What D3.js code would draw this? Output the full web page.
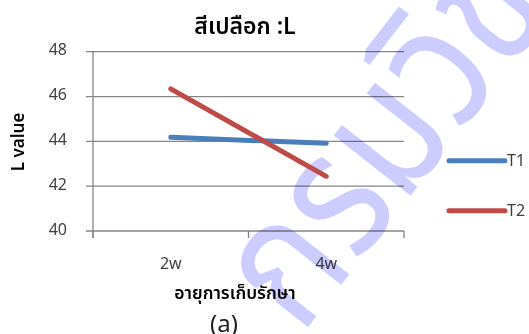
<!DOCTYPE html>
<html>
<head>
<meta charset="utf-8">
<script src="https://cdn.jsdelivr.net/npm/d3@7"></script>
<style>
  html, body { margin: 0; padding: 0; background: #fff; }
  svg { display: block; }
  text { font-family: "Noto Sans Thai", "Leelawadee UI", "Noto Sans", "DejaVu Sans", sans-serif; }
</style>
</head>
<body>
<div class="chart"></div>
<script>
// ---- data ----
var categories = ["2w", "4w"];
var seriesNames = ["T1", "T2"];
var t1Values = [44.18, 43.91];
var t2Values = [46.34, 42.44];
var yTicks = [40, 42, 44, 46, 48];
var seriesColors = ["#4a7ebb", "#be4b48"];

var svgWidth = 529, svgHeight = 334;

var svg = d3.select(".chart")
    .append("svg")
    .attr("width", svgWidth)
    .attr("height", svgHeight);

// scales
var plot = { left: 93, right: 404, top: 51.7, bottom: 231 };

var xScale = d3.scaleBand()
    .domain(categories)
    .range([plot.left, plot.right]);

var yScale = d3.scaleLinear()
    .domain([40, 48])
    .range([plot.bottom, plot.top]);

// gridlines (with the small left tick)
svg.append("g")
    .selectAll("line")
    .data(yTicks)
    .enter()
    .append("line")
    .attr("x1", plot.left - 7)
    .attr("x2", plot.right)
    .attr("y1", d => yScale(d))
    .attr("y2", d => yScale(d))
    .attr("stroke", "#868686")
    .attr("stroke-width", 1.3);

// y axis line
svg.append("line")
    .attr("x1", plot.left).attr("x2", plot.left)
    .attr("y1", plot.top).attr("y2", plot.bottom + 7)
    .attr("stroke", "#868686")
    .attr("stroke-width", 1.3);

// x axis tick marks at band edges
var xEdges = categories.map(c => xScale(c)).concat([plot.right]);
svg.append("g")
    .selectAll("line")
    .data(xEdges)
    .enter()
    .append("line")
    .attr("x1", d => d).attr("x2", d => d)
    .attr("y1", plot.bottom).attr("y2", plot.bottom + 7)
    .attr("stroke", "#868686")
    .attr("stroke-width", 1.3);

// y tick labels
svg.append("g")
    .selectAll("text")
    .data(yTicks)
    .enter()
    .append("text")
    .attr("x", 67)
    .attr("y", d => yScale(d) - 2)
    .attr("dy", "0.35em")
    .attr("text-anchor", "end")
    .attr("font-size", 16)
    .attr("fill", "#404040")
    .text(d => d);

// x tick labels
svg.append("g")
    .selectAll("text")
    .data(categories)
    .enter()
    .append("text")
    .attr("x", d => xScale(d) + xScale.bandwidth() / 2)
    .attr("y", 269)
    .attr("text-anchor", "middle")
    .attr("font-size", 16)
    .attr("fill", "#404040")
    .text(d => d);

// legend
var legend = svg.append("g")
    .selectAll("g")
    .data(seriesNames)
    .enter()
    .append("g")
    .attr("transform", (d, i) => `translate(449, ${160.7 + i * 50})`);

legend.append("line")
    .attr("x1", 0).attr("x2", 56)
    .attr("stroke", (d, i) => seriesColors[i])
    .attr("stroke-width", 5)
    .attr("stroke-linecap", "round");

legend.append("text")
    .attr("x", 58)
    .attr("dy", "0.35em")
    .attr("font-size", 16)
    .attr("fill", "#404040")
    .text(d => d);

// titles
svg.append("text")
    .attr("x", 245)
    .attr("y", 34)
    .attr("text-anchor", "middle")
    .attr("font-size", 23)
    .attr("font-weight", 600)
    .attr("fill", "#000")
    .text("สีเปลือก :L");

svg.append("text")
    .attr("transform", "translate(24, 142) rotate(-90)")
    .attr("text-anchor", "middle")
    .attr("font-size", 17)
    .attr("font-weight", 600)
    .attr("fill", "#000")
    .text("L value");

svg.append("text")
    .attr("x", 235)
    .attr("y", 299)
    .attr("text-anchor", "middle")
    .attr("font-size", 17.5)
    .attr("font-weight", 600)
    .attr("fill", "#000")
    .text("อายุการเก็บรักษา");

svg.append("text")
    .attr("x", 224)
    .attr("y", 332)
    .attr("text-anchor", "middle")
    .attr("font-size", 24)
    .attr("fill", "#222")
    .text("(a)");

// watermark (multiplied over the grid and texts, under the series lines)
svg.append("text")
    .attr("transform", "translate(301, 336) rotate(-52) scale(0.85, 1)")
    .attr("font-size", 178)
    .attr("fill", "#ccccff")
    .style("mix-blend-mode", "multiply")
    .text("กรมวิชาการเกษตร");

// series lines
var series = [t1Values, t2Values];
var line = d3.line()
    .x((d, i) => xScale(categories[i]) + xScale.bandwidth() / 2)
    .y(d => yScale(d));

svg.append("g")
    .selectAll("path")
    .data(series)
    .enter()
    .append("path")
    .attr("d", d => line(d))
    .attr("fill", "none")
    .attr("stroke", (d, i) => seriesColors[i])
    .attr("stroke-width", 5)
    .attr("stroke-linecap", "round");
</script>
</body>
</html>
